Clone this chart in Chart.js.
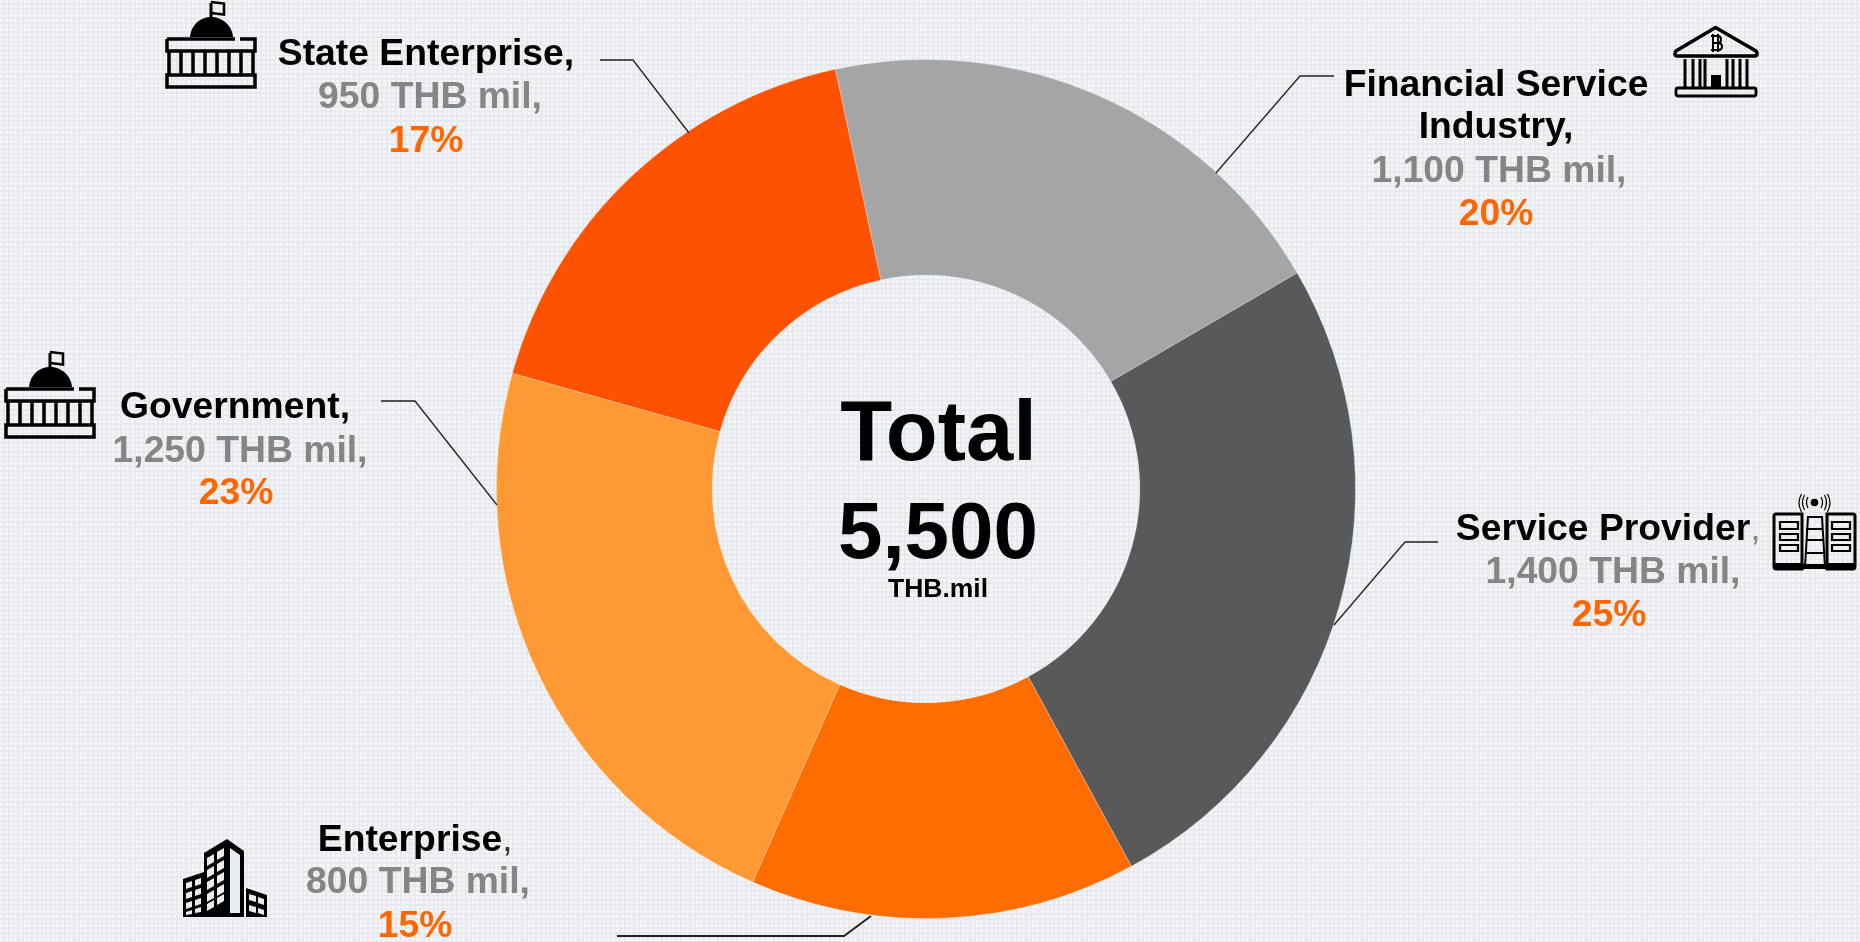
<!DOCTYPE html>
<html><head><meta charset="utf-8">
<script src="https://cdn.jsdelivr.net/npm/chart.js@4"></script>
<style>
html,body{margin:0;padding:0;width:1860px;height:942px;overflow:hidden;background-color:#e6e9ed;
background-image:url("data:image/svg+xml,%3Csvg xmlns='http://www.w3.org/2000/svg' width='14' height='14'%3E%3Cpath fill='%23f3f5f7' d='M0 0h3v3H0zM5 0h3v3H5zM10 0h3v3h-3zM0 5h3v3H0zM5 5h3v3H5zM10 5h3v3h-3zM0 10h3v3H0zM5 10h3v3H5zM10 10h3v3h-3z'/%3E%3C/svg%3E")}
#wrap{position:absolute;left:0;top:0;width:1860px;height:942px}
svg.icon{position:absolute;overflow:visible}
</style></head><body>
<div id="wrap"><canvas id="c" width="1860" height="942"></canvas></div>

<svg class="icon" style="left:165px;top:0;width:92px;height:88px" viewBox="0 0 92 88"><use href="#dome"/></svg>
<svg class="icon" style="left:4px;top:350px;width:92px;height:88px" viewBox="0 0 92 88"><use href="#dome"/></svg>

<svg width="0" height="0" style="position:absolute"><defs>
<g id="dome">
  <path d="M46 18V3" stroke="#000" stroke-width="3" fill="none"/>
  <path d="M46 2l13 1.500v11L46 13" stroke="#000" stroke-width="2.500" fill="none"/>
  <path d="M25 37C26 25 35 17 46 17S67 25 68 37Z" fill="#000"/>
  <path d="M2 39H70M75 39H90V51H2V39M2 75H90V87H2Z" stroke="#000" stroke-width="3.500" fill="none"/>
  <path d="M4 51V75M16 51V75M28 51V75M40 51V75M52 51V75M64 51V75M76 51V75M88 51V75" stroke="#000" stroke-width="3.500" fill="none"/>
</g>
</defs></svg>

<svg class="icon" style="left:1673px;top:26px;width:86px;height:71px" viewBox="0 0 86 71">
  <path d="M42.500 1.500L83 25Q86 30 81 30H5Q0 30 3 25Z" fill="none" stroke="#000" stroke-width="3.500" stroke-linejoin="round"/>
  <path d="M40 8V26M45 8V26M38 10H45Q48 10 48 13.500T45 17H39M45 17Q49 17 49 20.500T45 24H38" fill="none" stroke="#000" stroke-width="2"/>
  <path d="M12 33V61M20 33V61M27 33V61M32 33V61M54 33V61M60 33V61M67 33V61M74 33V61" stroke="#000" stroke-width="3"/>
  <rect x="38" y="49" width="10" height="13" fill="#000"/>
  <rect x="3" y="62" width="80" height="8" rx="2" fill="none" stroke="#000" stroke-width="2.800"/>
</svg>

<svg class="icon" style="left:1773px;top:493px;width:83px;height:76px" viewBox="0 0 83 76">
  <circle cx="41.500" cy="9.500" r="3.800" fill="#000"/>
  <path d="M35 4Q32 9.500 35 15M48 4Q51 9.500 48 15M31.500 2Q27.500 9.500 31.500 17M51.500 2Q55.500 9.500 51.500 17M28.500 1Q23.500 9.500 28.500 19M54.500 1Q59.500 9.500 54.500 19" fill="none" stroke="#000" stroke-width="1.200"/>
  <path d="M3 21H29V76H3Q1 76 1 73V23Q1 21 3 21ZM54 21H80Q82 21 82 23V73Q82 76 80 76H54Z" fill="none" stroke="#000" stroke-width="3"/>
  <path d="M1 70H29V76H1ZM54 70H82V76H54Z" fill="#000"/>
  <path d="M7 29H25V36H7ZM7 41H25V47H7ZM7 52H25V58H7ZM59 29H77V36H59ZM59 41H77V47H59ZM59 52H77V58H59Z" fill="none" stroke="#000" stroke-width="2.200"/>
  <path d="M35 24H49L52 74H32ZM33 36H50M33 47H51M32 60H52" fill="none" stroke="#000" stroke-width="2"/>
  <path d="M29 71H54V76H29Z" fill="#000"/>
</svg>

<svg class="icon" style="left:183px;top:839px;width:85px;height:79px" viewBox="0 0 85 79">
  <path d="M0 78V40L21 33V14L44 0L61 12V78H0ZM63 49L84 56V78H63Z" fill="#000"/>
  <g fill="#e9ecef">
  <path d="M47 9L57 16V74H47Z"/>
  <path d="M24 19l7-4v8l-7 4zM34 13l7-4v8l-7 4zM24 31l7-4v8l-7 4zM34 25l7-4v8l-7 4zM24 43l7-4v8l-7 4zM34 37l7-4v8l-7 4zM24 55l7-4v8l-7 4zM34 49l7-4v8l-7 4zM24 65l7-4v7l-7 4zM34 59l7-4v7l-7 4z"/>
  <path d="M3 44l6-2v6l-6 2zM12 41l6-2v6l-6 2zM3 54l6-2v6l-6 2zM12 51l6-2v6l-6 2zM3 64l6-2v6l-6 2zM12 61l6-2v6l-6 2zM3 73l6-2v4l-6 1zM12 70l6-2v5l-6 1z"/>
  <path d="M66 55l7 2v6l-7-2zM75 58l6 2v6l-6-2zM66 66l7 2v6l-7-2zM75 69l6 2v5l-6-2z"/>
  </g>
</svg>

<script>
const categories = ['Financial Service Industry','Service Provider','Enterprise','Government','State Enterprise'];
const amounts = [1100,1400,800,1250,950];
const shareLabels = ['20%','25%','15%','23%','17%'];
const amountLabels = ['1,100 THB mil,','1,400 THB mil,','800 THB mil,','1,250 THB mil,','950 THB mil,'];
const colours = ['#A5A5A5','#595959','#FF6D00','#FF9933','#FF5200'];
const totalLines = ['Total','5,500','THB.mil'];

const FONT = '"Liberation Sans", Arial, sans-serif';
const BLACK='#000', GREY='#858585', ORANGE='#FF6600';
// label placements: [text, colour, centreX, baseline]
const labels = [
 [['Financial Service',BLACK,1496,96],['Industry,',BLACK,1496,138],[amountLabels[0],GREY,1499,182],[shareLabels[0],ORANGE,1496,225]],
 [['Service Provider',BLACK,1603,540],[amountLabels[1],GREY,1613,583],[shareLabels[1],ORANGE,1609,626]],
 [['Enterprise',BLACK,410,851],[amountLabels[2],GREY,418,893],[shareLabels[2],ORANGE,415,937]],
 [[categories[3]+',',BLACK,235,418],[amountLabels[3],GREY,240,462],[shareLabels[3],ORANGE,236,504]],
 [[categories[4]+',',BLACK,426,65],[amountLabels[4],GREY,430,108],[shareLabels[4],ORANGE,426,152]]
];
const leaders = [
 [[1334,76],[1300,76],[1216,173]],
 [[1438,542],[1405,542],[1334,625]],
 [[617,936],[844,936],[871,916]],
 [[381,401],[415,401],[497,505]],
 [[600,60],[633,60],[689,133]]
];
const leaderWidths = [1.3,1.3,1.9,1.3,1.3];
const overlay = {
 id:'overlay',
 afterDraw(chart){
  const ctx=chart.ctx; ctx.save();
  ctx.strokeStyle='#222';
  leaders.forEach((l,i)=>{ctx.lineWidth=leaderWidths[i];ctx.beginPath();l.forEach((p,j)=>j?ctx.lineTo(p[0],p[1]):ctx.moveTo(p[0],p[1]));ctx.stroke();});
  ctx.textAlign='center'; ctx.textBaseline='alphabetic';
  const labelFont='bold 37.3px '+FONT;
  ctx.font=labelFont;
  labels.forEach(b=>b.forEach(t=>{ctx.fillStyle=t[1];ctx.fillText(t[0],t[2],t[3]);}));
  const halfSP=ctx.measureText(labels[1][0][0]).width/2, halfEn=ctx.measureText(labels[2][0][0]).width/2;
  ctx.textAlign='left';
  ctx.font='37px '+FONT;
  ctx.fillStyle=GREY; ctx.fillText(',',labels[1][0][2]+halfSP,540);
  ctx.fillStyle='#333'; ctx.fillText(',',labels[2][0][2]+halfEn,851);
  ctx.textAlign='center'; ctx.fillStyle='#000';
  ctx.font='bold 85px '+FONT; ctx.fillText(totalLines[0],938.5,460);
  ctx.font='bold 80px '+FONT; ctx.fillText(totalLines[1],938,558);
  ctx.font='bold 26.5px '+FONT; ctx.fillText(totalLines[2],938,597);
  ctx.restore();
 }
};
new Chart(document.getElementById('c'),{
 type:'doughnut',
 data:{labels:categories,datasets:[{data:amounts,backgroundColor:colours,borderWidth:1,borderColor:'rgba(255,255,255,0.25)'}]},
 options:{responsive:false,animation:false,rotation:-12.2,cutout:'49.8%',
  layout:{padding:{left:0,right:8,top:59,bottom:23}},
  plugins:{legend:{display:false},tooltip:{enabled:false}}},
 plugins:[overlay]
});
</script>
</body></html>
